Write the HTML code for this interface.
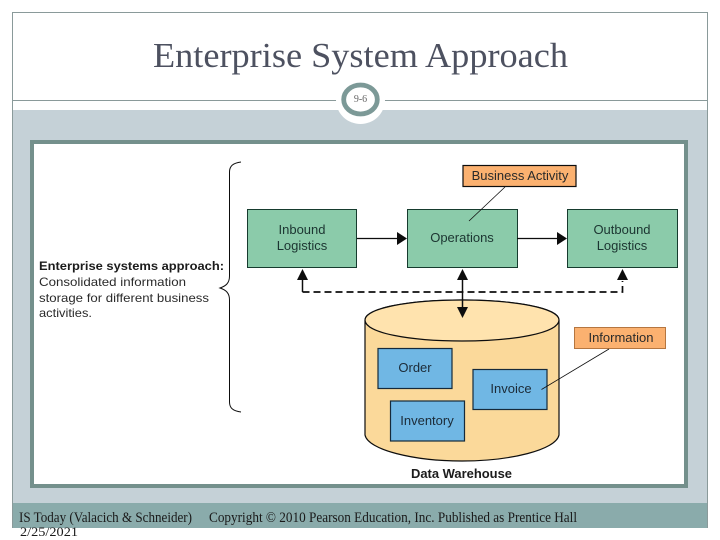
<!DOCTYPE html>
<html><head><meta charset="utf-8"><style>
html,body{margin:0;padding:0;background:#fff;width:720px;height:540px;overflow:hidden}
svg{display:block}
.s{font-family:"Liberation Sans",sans-serif}
.f{font-family:"Liberation Serif",serif}
</style></head><body>
<svg width="720" height="540" viewBox="0 0 720 540" xmlns="http://www.w3.org/2000/svg">
<defs><filter id="b" x="-5%" y="-5%" width="110%" height="110%"><feGaussianBlur stdDeviation="0.3"/></filter></defs>
<rect width="720" height="540" fill="#fff"/>
<rect x="12" y="110" width="696" height="393" fill="#c5d1d7"/>
<rect x="12" y="503" width="696" height="25" fill="#8aabab"/>
<path d="M12.500 528 V12.500 H707.500 V528" fill="none" stroke="#8a9a9a" stroke-width="1"/>
<rect x="12" y="100" width="696" height="1" fill="#8a9a9a"/>
<ellipse cx="360.500" cy="100" rx="24.500" ry="24" fill="#fff"/>
<ellipse cx="360.500" cy="99.500" rx="16.800" ry="14.500" fill="#fff" stroke="#7c9997" stroke-width="4.800"/>
<rect x="32" y="142" width="654" height="344" fill="#fff" stroke="#74908c" stroke-width="4"/>
<text class="f" x="19" y="522" font-size="15" fill="#1a1a1a" textLength="173" lengthAdjust="spacingAndGlyphs">IS Today (Valacich &amp; Schneider)</text>
<text class="f" x="209" y="522" font-size="15" fill="#1a1a1a" textLength="368" lengthAdjust="spacingAndGlyphs">Copyright © 2010 Pearson Education, Inc. Published as Prentice Hall</text>
<text class="f" x="20" y="536" font-size="13" fill="#1a1a1a" textLength="58" lengthAdjust="spacingAndGlyphs">2/25/2021</text>
<g filter="url(#b)">
<text class="f" x="153" y="67" font-size="34.500" fill="#4d5160" textLength="415" lengthAdjust="spacingAndGlyphs">Enterprise System Approach</text>
<text class="f" x="360.500" y="102" font-size="10" fill="#666" text-anchor="middle">9-6</text>

<path d="M241 162 C233 163 229.500 166 229.500 172 V276 C229.500 283 226 286 220 288 C226 290 229.500 293 229.500 300 V402 C229.500 408 233 411 241 412" fill="none" stroke="#111" stroke-width="1"/>
<text class="s" x="39" y="270" font-size="11.500" font-weight="bold" fill="#1a1a1a" textLength="185" lengthAdjust="spacingAndGlyphs">Enterprise systems approach:</text>
<text class="s" x="39" y="286" font-size="12" fill="#2a2a2a" textLength="147" lengthAdjust="spacingAndGlyphs">Consolidated information</text>
<text class="s" x="39" y="302" font-size="12" fill="#2a2a2a" textLength="170" lengthAdjust="spacingAndGlyphs">storage for different business</text>
<text class="s" x="39" y="317" font-size="12" fill="#2a2a2a" textLength="53" lengthAdjust="spacingAndGlyphs">activities.</text>

<g fill="#8bcbaa" stroke="#143a2e" stroke-width="1">
<rect x="247.500" y="209.500" width="109" height="58"/>
<rect x="407.500" y="209.500" width="110" height="58"/>
<rect x="567.500" y="209.500" width="110" height="58"/>
</g>
<g class="s" font-size="13" fill="#1c3530" text-anchor="middle">
<text x="302" y="234">Inbound</text><text x="302" y="250">Logistics</text>
<text x="462" y="242">Operations</text>
<text x="622" y="234">Outbound</text><text x="622" y="250">Logistics</text>
</g>

<rect x="463" y="165.500" width="113" height="21" fill="#fbb170" stroke="#111" stroke-width="1.200"/>
<text class="s" x="520" y="180" font-size="13" fill="#2a2a2a" text-anchor="middle">Business Activity</text>
<path d="M505 187 L469 221" stroke="#111" stroke-width="0.800" fill="none"/>

<g stroke="#111" stroke-width="1.200" fill="none">
<path d="M357 238.500 H398"/><path d="M517 238.500 H558"/>
</g>
<g fill="#111">
<path d="M397 232 L407 238.500 L397 245Z"/>
<path d="M557 232 L567 238.500 L557 245Z"/>
</g>
<path d="M302.500 292 H622.500 V281" fill="none" stroke="#111" stroke-width="1.700" stroke-dasharray="7 4"/>
<path d="M302.500 292 V279" fill="none" stroke="#111" stroke-width="1.500"/>
<path d="M297 280 L302.500 269 L308 280Z M617 280 L622.500 269 L628 280Z" fill="#111"/>

<path d="M365 320 C365 308 410 300 462 300 C514 300 559 308 559 320 V435 C556 450 510 461 462 461 C414 461 368 450 365 435 Z" fill="#fbd99a" stroke="#111" stroke-width="1.200"/>
<path d="M365 320 C365 333 410 341 462 341 C514 341 559 333 559 320 C559 308 514 300 462 300 C410 300 365 308 365 320 Z" fill="#ffe3ae" stroke="#111" stroke-width="1.200"/>

<path d="M462.500 279 V308" stroke="#111" stroke-width="1.500" fill="none"/>
<path d="M457 280 L462.500 269 L468 280Z M457 307 L462.500 318 L468 307Z" fill="#111"/>

<g fill="#70b7e4" stroke="#122c3a" stroke-width="1.200">
<rect x="378" y="348.500" width="74" height="40"/>
<rect x="473" y="369.500" width="74" height="40"/>
<rect x="390.500" y="401" width="74" height="40"/>
</g>
<g class="s" font-size="13" fill="#1c2c38" text-anchor="middle">
<text x="415" y="372">Order</text>
<text x="511" y="393">Invoice</text>
<text x="427" y="425">Inventory</text>
</g>
<rect x="574.500" y="327.500" width="91" height="21" fill="#fbb170" stroke="#b5763f" stroke-width="1"/>
<text class="s" x="621" y="342" font-size="13" fill="#2a2a2a" text-anchor="middle">Information</text>
<path d="M609 349 L541.500 389.500" stroke="#111" stroke-width="0.800" fill="none"/>
<text class="s" x="411" y="478" font-size="12.500" font-weight="bold" fill="#1a1a1a" textLength="101" lengthAdjust="spacingAndGlyphs">Data Warehouse</text>
</g>
</svg>
</body></html>
